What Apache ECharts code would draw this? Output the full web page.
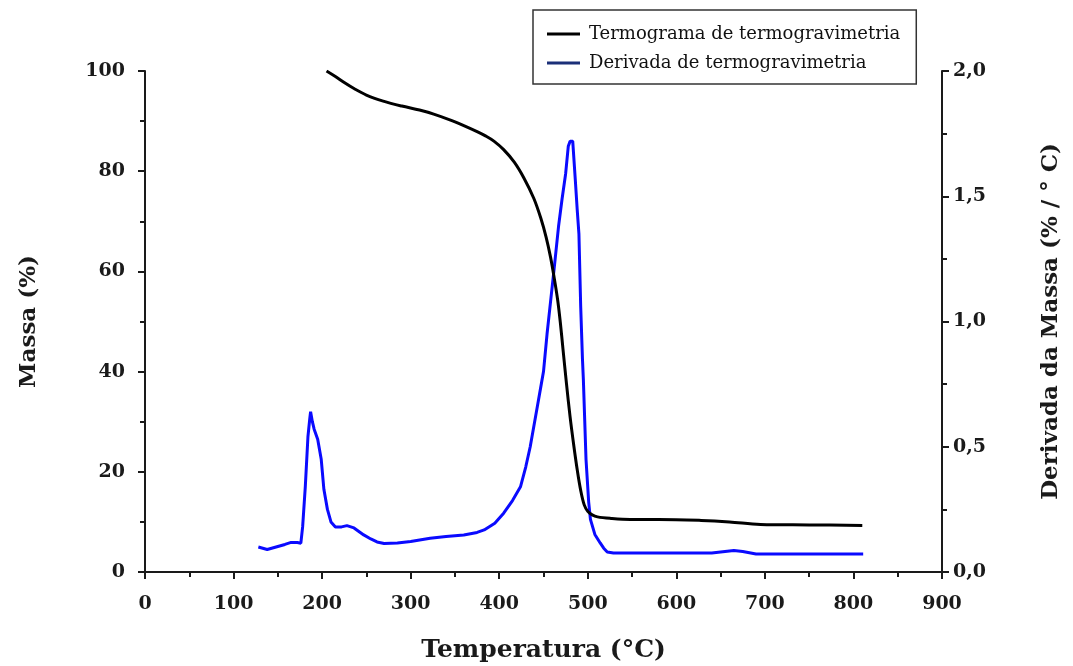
<!DOCTYPE html>
<html>
<head>
<meta charset="utf-8">
<script src="https://cdn.jsdelivr.net/npm/echarts@6/dist/echarts.min.js"></script>
<style>
  html, body { margin: 0; padding: 0; background: #fff; }
  #chart { width: 1073px; height: 666px; }
</style>
</head>
<body>
<div id="chart"></div>
<script>
// Termogravimetria (TG) – massa residual (%) versus temperatura (°C)
const tgTemp = [205, 215, 225, 236, 250, 269, 290, 310, 326, 345, 360, 375, 385, 394, 405, 417, 428, 439, 447, 453, 458, 462, 466, 469, 472, 476, 480, 484, 488, 492, 496, 500, 505, 511, 526, 548, 580, 628, 660, 695, 750, 810];
const tgMass = [100.0, 98.9, 97.7, 96.5, 95.2, 94.0, 93.0, 92.2, 91.4, 90.2, 89.1, 87.9, 87.0, 86.0, 84.3, 81.8, 78.6, 74.6, 70.6, 66.8, 62.8, 58.8, 54.3, 49.8, 44.5, 37.5, 31.0, 25.5, 20.5, 16.3, 13.4, 12.1, 11.4, 11.0, 10.7, 10.5, 10.5, 10.3, 10.0, 9.5, 9.4, 9.3];

// Derivada (DTG) – (% / °C) versus temperatura (°C)
const dtgTemp = [128, 133, 138, 148, 158, 165, 172, 176, 178, 181, 184, 186, 187, 189, 191, 195, 199, 202, 206, 210, 215, 222, 228, 236, 247, 255, 262, 270, 285, 300, 322, 340, 360, 375, 383, 395, 405, 415, 424, 430, 435, 440, 443, 447, 450, 454, 458, 462, 467, 471, 475, 478, 480, 483, 486, 488, 490, 492, 494, 495, 498, 501, 503, 508, 514, 518, 522, 529, 560, 600, 640, 655, 665, 675, 690, 750, 811];
const dtgValue = [0.100, 0.095, 0.090, 0.100, 0.110, 0.118, 0.118, 0.115, 0.180, 0.340, 0.540, 0.610, 0.640, 0.600, 0.570, 0.530, 0.450, 0.330, 0.250, 0.200, 0.180, 0.180, 0.185, 0.176, 0.148, 0.132, 0.120, 0.114, 0.116, 0.122, 0.135, 0.142, 0.148, 0.158, 0.168, 0.195, 0.235, 0.285, 0.340, 0.420, 0.500, 0.600, 0.660, 0.740, 0.800, 0.950, 1.080, 1.210, 1.380, 1.490, 1.590, 1.700, 1.720, 1.720, 1.560, 1.450, 1.350, 1.060, 0.850, 0.770, 0.450, 0.280, 0.210, 0.150, 0.116, 0.095, 0.080, 0.076, 0.076, 0.076, 0.076, 0.082, 0.086, 0.082, 0.072, 0.072, 0.072];

// Axis ranges and tick steps
const xTicks = { min: 0, max: 900, step: 100 };
const massTicks = { min: 0, max: 100, step: 20 };
const dtgTicks = { min: 0, max: 2, step: 0.5 };

const seriesNames = ['Termograma de termogravimetria', 'Derivada de termogravimetria'];
const axisTitles = { x: 'Temperatura (°C)', left: 'Massa (%)', right: 'Derivada da Massa (% / ° C)' };

const pair = (xs, ys) => xs.map((x, i) => [x, ys[i]]);

const serif = 'DejaVu Serif';
const axisInk = '#1a1a1a';

const tickLabel = {
  fontFamily: serif, fontWeight: 'bold', fontSize: 19, color: '#1a1a1a'
};
const axisTitleStyle = {
  fontFamily: serif, fontWeight: 'bold', fontSize: 23, color: '#1a1a1a'
};
const lineAxis = { show: true, lineStyle: { color: axisInk, width: 2 } };
const majorTick = { show: true, inside: false, length: 7, lineStyle: { color: axisInk, width: 2 } };
const minorTick = { show: true, splitNumber: 2, length: 5, lineStyle: { color: axisInk, width: 2 } };

const chart = echarts.init(document.getElementById('chart'), null, { renderer: 'canvas' });

chart.setOption({
  backgroundColor: '#ffffff',
  animation: false,
  grid: { left: 145, right: 131, top: 71, bottom: 94, containLabel: false, outerBoundsMode: 'none' },
  legend: {
    orient: 'vertical',
    left: 533,
    top: 10,
    padding: [13, 16, 10, 14],
    itemGap: 7,
    itemWidth: 33,
    itemHeight: 3,
    icon: 'rect',
    borderColor: '#333',
    borderWidth: 1.5,
    textStyle: { fontFamily: serif, fontSize: 18, color: '#111', lineHeight: 22, padding: [0, 0, 0, 4] },
    data: [
      { name: seriesNames[0], itemStyle: { color: '#000000' } },
      { name: seriesNames[1], itemStyle: { color: '#1b2f78' } }
    ]
  },
  xAxis: {
    type: 'value',
    min: xTicks.min, max: xTicks.max, interval: xTicks.step,
    name: axisTitles.x,
    nameLocation: 'middle',
    nameGap: 66,
    nameTextStyle: Object.assign({}, axisTitleStyle, { fontSize: 25 }),
    axisLine: lineAxis,
    axisTick: majorTick,
    minorTick: minorTick,
    splitLine: { show: false },
    axisLabel: Object.assign({ margin: 23 }, tickLabel)
  },
  yAxis: [
    {
      type: 'value',
      position: 'left',
      min: massTicks.min, max: massTicks.max, interval: massTicks.step,
      name: axisTitles.left,
      nameLocation: 'middle',
      nameRotate: 90,
      nameGap: 104,
      nameTextStyle: axisTitleStyle,
      axisLine: lineAxis,
      axisTick: majorTick,
      minorTick: minorTick,
      splitLine: { show: false },
      axisLabel: Object.assign({ margin: 20 }, tickLabel)
    },
    {
      type: 'value',
      position: 'right',
      min: dtgTicks.min, max: dtgTicks.max, interval: dtgTicks.step,
      name: axisTitles.right,
      nameLocation: 'middle',
      nameRotate: 90,
      nameGap: 98,
      nameTextStyle: axisTitleStyle,
      axisLine: lineAxis,
      axisTick: majorTick,
      minorTick: minorTick,
      splitLine: { show: false },
      axisLabel: Object.assign({
        margin: 11,
        formatter: v => v.toFixed(1).replace('.', ',')
      }, tickLabel)
    }
  ],
  series: [
    {
      name: seriesNames[0],
      type: 'line',
      yAxisIndex: 0,
      data: pair(tgTemp, tgMass),
      showSymbol: false,
      symbol: 'none',
      smooth: 0.35,
      lineStyle: { color: '#000000', width: 3 },
      itemStyle: { color: '#000000' },
      z: 3
    },
    {
      name: seriesNames[1],
      type: 'line',
      yAxisIndex: 1,
      data: pair(dtgTemp, dtgValue),
      showSymbol: false,
      symbol: 'none',
      lineStyle: { color: '#0a0aff', width: 3 },
      itemStyle: { color: '#0a0aff' },
      z: 2
    }
  ]
});
</script>
</body>
</html>
